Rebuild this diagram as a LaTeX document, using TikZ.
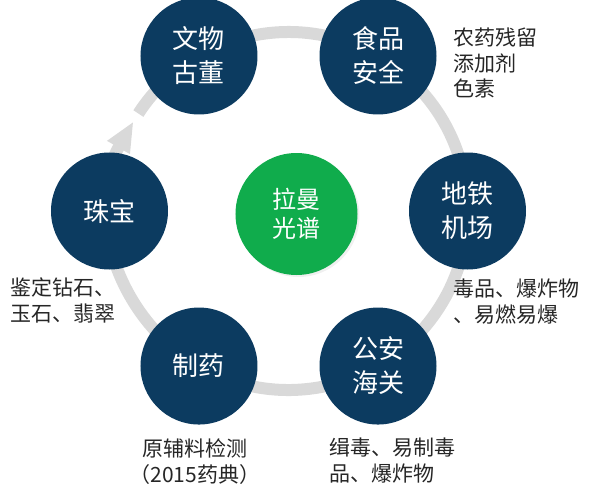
\documentclass[tikz,border=0pt]{standalone}
\usepackage{fontspec}
\newfontfamily\cjk{Noto Sans CJK SC}
\usetikzlibrary{arrows.meta,shadows}
\definecolor{navy}{HTML}{0C3B60}
\definecolor{ramangreen}{HTML}{10AC4C}
\definecolor{ringgray}{HTML}{D9D9D9}
\definecolor{notegray}{HTML}{262626}

\begin{document}
\begin{tikzpicture}[x=1pt,y=1pt,>={Triangle[length=30pt,width=24pt]},
                    semithick]
  \tikzstyle{field}=[circle,fill=navy,text=white,minimum size=117pt,inner sep=0pt,
                     align=center,font=\cjk\fontsize{26}{34}\selectfont]
  \tikzstyle{core}=[field,fill=ramangreen,minimum size=122pt,
                    font=\cjk\fontsize{24}{29}\selectfont,
                    drop shadow={opacity=0.12,shadow xshift=2pt,shadow yshift=-2pt}]
  \tikzstyle{note}=[text=notegray,inner sep=0pt,font=\cjk\fontsize{21}{25.5}\selectfont]

  \useasboundingbox (-288.5,-280) rectangle (305.5,211);

  \draw[->,line width=12pt,ringgray] (147:179) arc[start angle=147,end angle=-210,radius=179];

  \node[field] (relic)  at (120:179)  {文物\\古董};
  \node[field] (food)   at (60:179)   {食品\\安全};
  \node[field] (metro)  at (0:179)    {地铁\\机场};
  \node[field] (police) at (-60:179)  {公安\\海关};
  \node[field] (pharma) at (-120:179) {制药};
  \node[field] (jewel)  at (180:179)  {珠宝};
  \node[core]  (raman)  at (8,-3)     {拉曼\\光谱};

  \node[note,anchor=west,align=left] (foodnote)   at (164.5,148)    {农药残留\\添加剂\\色素};
  \node[note,anchor=west,align=left] (metronote)  at (164.5,-90.5)  {毒品、爆炸物\\、易燃易爆};
  \node[note,anchor=west,align=left] (policenote) at (40.5,-249.5)  {缉毒、易制毒\\品、爆炸物};
  \node[note,align=center]           (pharmanote) at (-93.5,-250.5) {原辅料检测\\（2015药典）};
  \node[note,anchor=west,align=left] (jewelnote)  at (-278.5,-89.5) {鉴定钻石、\\玉石、翡翠};
\end{tikzpicture}
\end{document}
